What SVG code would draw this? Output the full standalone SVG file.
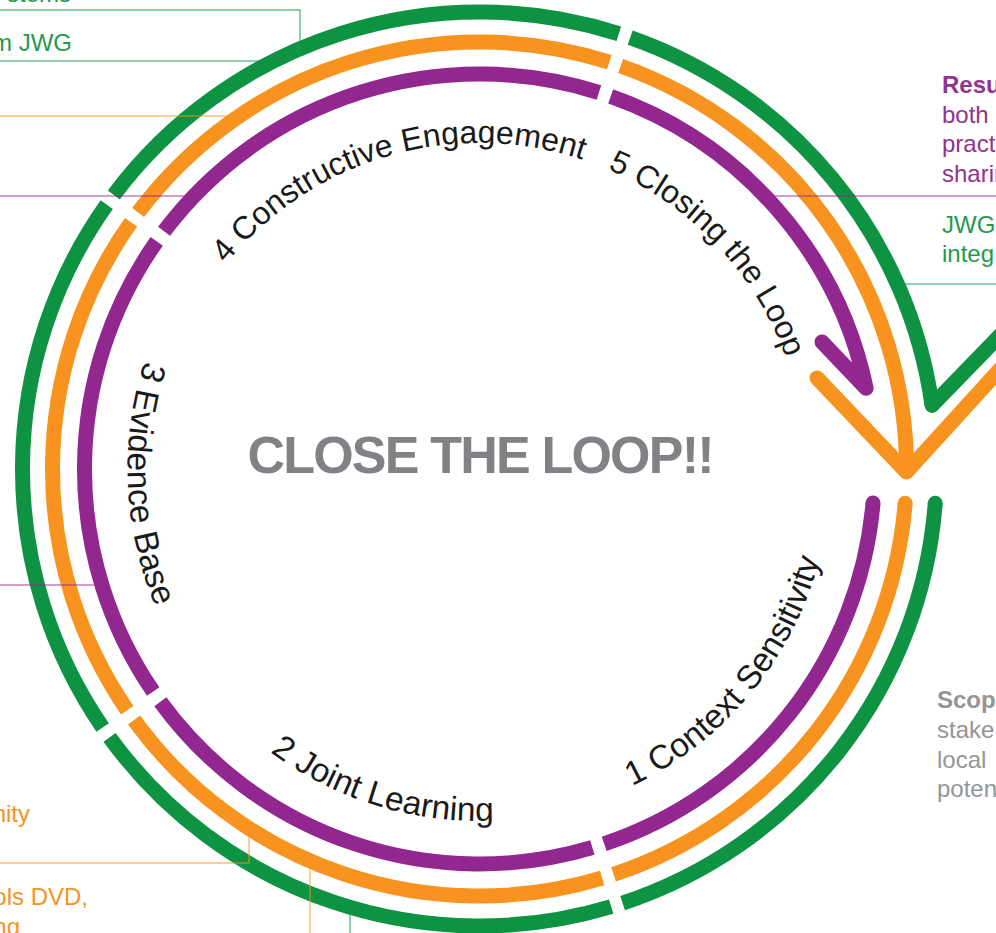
<svg xmlns="http://www.w3.org/2000/svg" width="996" height="933" viewBox="0 0 996 933">
<style>
.ring{fill:none;stroke-width:15;stroke-linecap:butt}
.g{stroke:#0e9343}
.o{stroke:#f7931e}
.p{stroke:#92278f}
.gf{fill:#0e9343}
.of{fill:#f7931e}
.pf{fill:#92278f}
.barb{fill:none;stroke-width:15;stroke-linecap:round;stroke-linejoin:round}
.lead{fill:none;stroke-width:1.5;opacity:0.6}
.lbl{font-family:"Liberation Sans",Arial,Helvetica,sans-serif;font-size:32px;fill:#1a1a1a}
.lbl2{font-size:33.5px}
.side{font-family:"Liberation Sans",Arial,Helvetica,sans-serif;font-size:24px}
.title{font-family:"Liberation Sans",Arial,Helvetica,sans-serif;font-size:52px;font-weight:bold;fill:#808285}
.tg{fill:#1f9a50}
.to{fill:#f7941d}
.tp{fill:#93328f}
.tgr{fill:#939598}
</style>
<defs>
<path id="t1" d="M543.04,815.22 A352,352 0 0 0 831.49,466.54"/>
<path id="t2" d="M183.95,660.20 A352,352 0 0 0 616.47,793.26"/>
<path id="t3" d="M199.87,255.20 A352,352 0 0 0 220.39,707.26"/>
<path id="t4" d="M181.00,337.96 A326,326 0 0 1 660.38,197.78"/>
<path id="t5" d="M516.97,145.16 A326,326 0 0 1 804.93,449.67"/>
</defs>
<rect width="996" height="933" fill="#ffffff"/>

<g id="ring-green">
<path class="ring g" d="M935.22,503.27 A457,457 0 0 1 622.61,903.01"/>
<path class="ring g" d="M611.21,906.61 A457,457 0 0 1 109.54,737.30"/>
<path class="ring g" d="M102.65,727.52 A457,457 0 0 1 106.76,204.59"/>
<path class="ring g" d="M113.80,194.92 A457,457 0 0 1 618.82,33.75"/>
<path class="ring g" d="M630.17,37.55 A457,457 0 0 1 932.05,405.40"/>
<circle class="gf" cx="935.22" cy="503.27" r="7.5"/>
<path class="barb g" d="M932.05,405.40 L1012,323"/>
</g>

<g id="ring-orange">
<path class="ring o" d="M905.12,503.25 A427,427 0 0 1 613.57,874.41"/>
<path class="ring o" d="M602.20,877.99 A427,427 0 0 1 134.05,719.99"/>
<path class="ring o" d="M127.18,710.24 A427,427 0 0 1 131.01,222.25"/>
<path class="ring o" d="M138.04,212.62 A427,427 0 0 1 609.32,62.21"/>
<path class="ring o" d="M620.63,66.00 A427,427 0 0 1 906.49,471.98"/>
<circle class="of" cx="905.12" cy="503.25" r="7.5"/>
<path class="barb o" d="M817,378 L906.49,471.98 L1012,356"/>
</g>

<g id="ring-purple">
<path class="ring p" d="M873.03,503.08 A395,395 0 0 1 604.18,843.81"/>
<path class="ring p" d="M592.35,847.54 A395,395 0 0 1 160.34,701.73"/>
<path class="ring p" d="M153.19,691.59 A395,395 0 0 1 156.73,241.31"/>
<path class="ring p" d="M164.04,231.28 A395,395 0 0 1 598.94,92.49"/>
<path class="ring p" d="M610.70,96.43 A395,395 0 0 1 866.15,388.22"/>
<circle class="pf" cx="873.03" cy="503.08" r="7.5"/>
<path class="barb p" d="M822,342 L866.15,388.22"/>
</g>

<g id="connectors">
<polyline class="lead g" points="0,10 300,10 300,42"/>
<line class="lead g" x1="0" y1="61" x2="267" y2="61"/>
<line class="lead o" x1="0" y1="116" x2="232" y2="116"/>
<line class="lead p" x1="0" y1="196" x2="187" y2="196"/>
<line class="lead p" x1="0" y1="585" x2="94" y2="585"/>
<polyline class="lead o" points="0,863 249,863 249,836"/>
<line class="lead o" x1="310" y1="868" x2="310" y2="933"/>
<line class="lead g" x1="350" y1="915" x2="350" y2="933"/>
<line class="lead p" x1="772" y1="196" x2="996" y2="196"/>
<line class="lead g" x1="905" y1="284" x2="996" y2="284"/>
</g>

<g id="stage-labels">
<text class="lbl lbl2"><textPath href="#t1" startOffset="50%" text-anchor="middle">1 Context Sensitivity</textPath></text>
<text class="lbl lbl2"><textPath href="#t2" startOffset="50%" text-anchor="middle">2 Joint Learning</textPath></text>
<text class="lbl lbl2"><textPath href="#t3" startOffset="50%" text-anchor="middle">3 Evidence Base</textPath></text>
<text class="lbl"><textPath href="#t4" startOffset="50%" text-anchor="middle">4 Constructive Engagement</textPath></text>
<text class="lbl"><textPath href="#t5" startOffset="50%" text-anchor="middle">5 Closing the Loop</textPath></text>
</g>

<g id="center-title">
<text class="title" x="481" y="473" text-anchor="middle" textLength="467" lengthAdjust="spacing">CLOSE THE LOOP!!</text>
</g>

<g id="left-notes">
<text class="side tg" x="71" y="2" text-anchor="end">stems</text>
<text class="side tg" x="72" y="51" text-anchor="end">m JWG</text>
<text class="side to" x="30" y="822" text-anchor="end">nity</text>
<text class="side to" x="88" y="905" text-anchor="end">ols DVD,</text>
<text class="side to" x="20" y="935" text-anchor="end">ng</text>
</g>

<g id="right-notes">
<text class="side tp" x="942" y="93" font-weight="bold">Resu</text>
<text class="side tp" x="942" y="123">both</text>
<text class="side tp" x="942" y="152">pract</text>
<text class="side tp" x="942" y="182">sharin</text>
<text class="side tg" x="942" y="233">JWG</text>
<text class="side tg" x="942" y="262">integ</text>
<text class="side tgr" x="937" y="708" font-weight="bold" fill="#8a8b8d">Scop</text>
<text class="side tgr" x="937" y="738">stake</text>
<text class="side tgr" x="937" y="768">local</text>
<text class="side tgr" x="937" y="797">poten</text>
</g>
</svg>
